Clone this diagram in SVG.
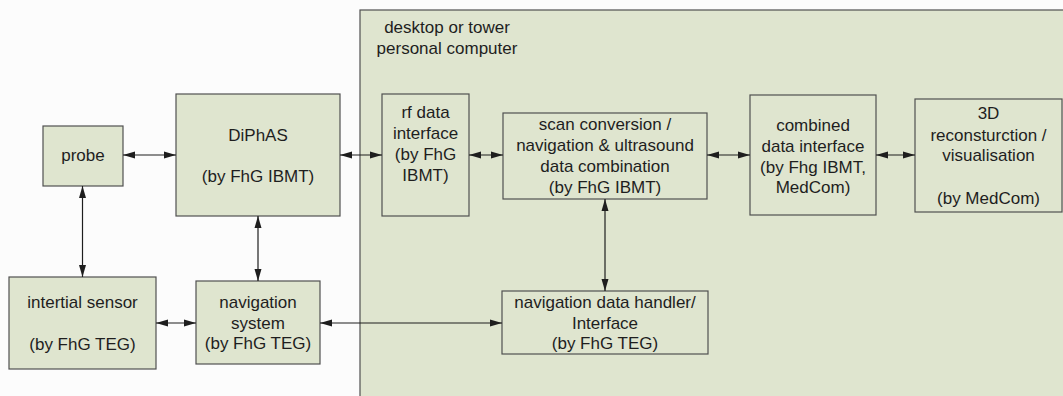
<svg xmlns="http://www.w3.org/2000/svg" width="1063" height="396" viewBox="0 0 1063 396">
<style>
.bg{fill:#fcfcfc}
.box{fill:#dfe5cf;stroke:#505050;stroke-width:1.2}
.t{font-family:"Liberation Sans",Arial,sans-serif;font-size:17px;fill:#1e1e1e;text-anchor:middle;dominant-baseline:central}
.c{stroke:#1e1e1e;stroke-width:1.2;fill:none;marker-start:url(#ah);marker-end:url(#ah)}
</style>
<defs>
<marker id="ah" markerUnits="userSpaceOnUse" markerWidth="12" markerHeight="8" refX="12" refY="4" orient="auto-start-reverse">
<path d="M0,0.5 L12,4 L0,7.5 z" fill="#1e1e1e"/>
</marker>
</defs>
<rect class="bg" x="0" y="0" width="1063" height="396"/>
<g id="pc">
<rect class="box" x="360" y="10" width="710" height="400"/>
<text class="t" x="447" y="27">desktop or tower</text>
<text class="t" x="447" y="48">personal computer</text>
</g>
<g id="probe">
<rect class="box" x="43" y="126" width="80" height="60"/>
<text class="t" x="83" y="155">probe</text>
</g>
<g id="diphas">
<rect class="box" x="176" y="94" width="164" height="122"/>
<text class="t" x="258" y="135">DiPhAS</text>
<text class="t" x="258" y="176">(by FhG IBMT)</text>
</g>
<g id="rf">
<rect class="box" x="382" y="94" width="87" height="122"/>
<text class="t" x="425.5" y="112">rf data</text>
<text class="t" x="425.5" y="133">interface</text>
<text class="t" x="425.5" y="154">(by FhG</text>
<text class="t" x="425.5" y="175">IBMT)</text>
</g>
<g id="scan">
<rect class="box" x="503" y="113" width="204" height="86"/>
<text class="t" x="605" y="124">scan conversion /</text>
<text class="t" x="605" y="145">navigation &amp; ultrasound</text>
<text class="t" x="605" y="166">data combination</text>
<text class="t" x="605" y="187">(by FhG IBMT)</text>
</g>
<g id="combined">
<rect class="box" x="750" y="95" width="126" height="120"/>
<text class="t" x="813" y="125">combined</text>
<text class="t" x="813" y="146">data interface</text>
<text class="t" x="813" y="167">(by Fhg IBMT,</text>
<text class="t" x="813" y="187">MedCom)</text>
</g>
<g id="recon">
<rect class="box" x="915" y="99" width="147" height="113"/>
<text class="t" x="988.5" y="113">3D</text>
<text class="t" x="988.5" y="135">reconsturction /</text>
<text class="t" x="988.5" y="155">visualisation</text>
<text class="t" x="988.5" y="198">(by MedCom)</text>
</g>
<g id="sensor">
<rect class="box" x="9" y="277" width="147" height="92"/>
<text class="t" x="82.5" y="302">intertial sensor</text>
<text class="t" x="82.5" y="344">(by FhG TEG)</text>
</g>
<g id="navsys">
<rect class="box" x="196" y="281" width="124" height="83"/>
<text class="t" x="258" y="302">navigation</text>
<text class="t" x="258" y="323">system</text>
<text class="t" x="258" y="343">(by FhG TEG)</text>
</g>
<g id="navhandler">
<rect class="box" x="502" y="291" width="206" height="63"/>
<text class="t" x="605" y="302">navigation data handler/</text>
<text class="t" x="605" y="323">Interface</text>
<text class="t" x="605" y="343">(by FhG TEG)</text>
</g>
<g id="connectors">
<line class="c" x1="123" y1="155" x2="176" y2="155"/>
<line class="c" x1="340" y1="155" x2="382" y2="155"/>
<line class="c" x1="469" y1="155" x2="503" y2="155"/>
<line class="c" x1="707" y1="155" x2="750" y2="155"/>
<line class="c" x1="876" y1="155" x2="915" y2="155"/>
<line class="c" x1="82.5" y1="186" x2="82.5" y2="277"/>
<line class="c" x1="258" y1="216" x2="258" y2="281"/>
<line class="c" x1="156" y1="323" x2="196" y2="323"/>
<line class="c" x1="320" y1="323" x2="502" y2="323"/>
<line class="c" x1="605" y1="199" x2="605" y2="291"/>
</g>
</svg>
